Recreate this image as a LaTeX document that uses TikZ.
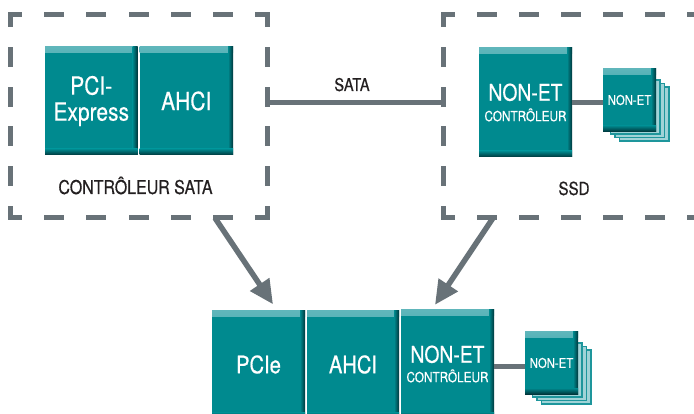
\documentclass[tikz,border=0pt]{standalone}
\usepackage{fontspec}
\setmainfont{TeX Gyre Heros}[FakeStretch=0.84,FakeBold=0.5]
\usetikzlibrary{arrows.meta,calc}
\definecolor{tealmain}{RGB}{0,138,143}
\definecolor{teallight}{RGB}{95,182,187}
\definecolor{tealdark}{RGB}{0,55,60}
\definecolor{layerfill}{RGB}{160,211,215}
\definecolor{layeredge}{RGB}{30,150,156}
\definecolor{linegray}{RGB}{104,114,120}
\definecolor{labeltext}{RGB}{35,31,32}
\tikzset{
  chip/.style={fill=tealmain, text=white, inner sep=0pt, align=center,
    path picture={
      \shade[top color=teallight, bottom color=tealmain]
        (path picture bounding box.north west) rectangle ([yshift=-6pt]path picture bounding box.north east);
      \shade[left color=tealmain, right color=tealdark]
        ([xshift=-5pt]path picture bounding box.north east) rectangle (path picture bounding box.south east);
      \shade[top color=tealmain, bottom color=tealdark]
        ([yshift=6pt]path picture bounding box.south west) rectangle (path picture bounding box.south east);
    }},
  layer/.style={fill=layerfill, draw=layeredge, line width=1.2pt},
  dashedge/.style={draw=linegray, line width=5pt, line cap=rect,
    dash pattern=on 15pt off #1, dash phase=5.5pt},
  link/.style={draw=linegray, line width=5pt},
  bigarrow/.style={draw=linegray, fill=linegray, line width=5.5pt,
    -{Triangle[width=22pt,length=24pt]}},
  lbl/.style={text=labeltext, inner sep=0pt, anchor=base},
}
\newcommand{\nandlayers}[2]{%
  \foreach \i in {3,2,1} {
    \filldraw[layer] ({#1-23.5+4.5*\i},{#2-23.5+3.5*\i}) rectangle ({#1+26+4.5*\i},{#2+30.5+3.5*\i});
  }}
\begin{document}
\begin{tikzpicture}[x=1pt,y=-1pt]
\fill[white] (0,0) rectangle (694,414);
\useasboundingbox (0,0) rectangle (694,414);

% frame corners
\coordinate (sataNW) at (10,15);
\coordinate (sataSE) at (267,218);
\coordinate (ssdNW) at (443,15);
\coordinate (ssdSE) at (720,218);

% dashed frames
\draw[dashedge=27.17pt] (sataNW) -- (sataNW -| sataSE);
\draw[dashedge=27.17pt] (sataNW |- sataSE) -- (sataSE);
\draw[dashedge=24.8pt] (sataNW) -- (sataNW |- sataSE);
\draw[dashedge=24.8pt] (sataNW -| sataSE) -- (sataSE);
\draw[dashedge=27pt] (ssdNW) -- (ssdNW -| ssdSE);
\draw[dashedge=27pt] (ssdNW |- ssdSE) -- (ssdSE);
\draw[dashedge=24.8pt] (ssdNW) -- (ssdNW |- ssdSE);

% top-left chips
\node[chip, minimum width=92.5pt, minimum height=108pt, font=\fontsize{25}{26}\selectfont] (pci) at (91.25,101) {PCI-\\Express};
\node[chip, minimum width=93.5pt, minimum height=108pt, font=\fontsize{25}{26}\selectfont] (ahcia) at (186.25,101) {AHCI};

% SSD chips
\node[chip, minimum width=93pt, minimum height=109pt, font=\fontsize{23}{20.5}\selectfont] (ctrla) at (525.5,102.5) {NON-ET\\{\fontsize{14}{14}\selectfont CONTRÔLEUR}};
\nandlayers{629.5}{100}
\node[chip, minimum width=53pt, minimum height=63pt, font=\fontsize{13.5}{14}\selectfont] (nanda) at (629.5,100) {NON-ET};

% bottom chips
\node[chip, minimum width=93pt, minimum height=108pt, font=\fontsize{24}{26}\selectfont] (pcie) at (258.5,364.5) {PCIe};
\node[chip, minimum width=92pt, minimum height=108pt, font=\fontsize{24}{26}\selectfont] (ahcib) at (353,364.5) {AHCI};
\node[chip, minimum width=93pt, minimum height=108pt, font=\fontsize{23}{19.5}\selectfont] (ctrlb) at (447.5,364) {NON-ET\\{\fontsize{14}{14}\selectfont CONTRÔLEUR}};
\nandlayers{551.5}{363}
\node[chip, minimum width=53pt, minimum height=62pt, font=\fontsize{13.5}{14}\selectfont] (nandb) at (551.5,363) {NON-ET};

% labels
\node[lbl, font=\fontsize{17.5}{18}\selectfont] (satalbl) at (352,91) {SATA};
\node[lbl, font=\fontsize{19}{20}\selectfont] (ctrlsatalbl) at (135.5,194) {CONTRÔLEUR SATA};
\node[lbl, font=\fontsize{18}{19}\selectfont] (ssdlbl) at (574,195) {SSD};

% connectors
\draw[link] (sataSE |- ctrla.west) -- (ssdNW |- ctrla.west);
\draw[link] (ctrla.east) -- (ctrla.east -| nanda.west);
\draw[link] ([yshift=-2pt]ctrlb.east) -- ([yshift=-2pt]ctrlb.east -| nandb.west);

% arrows
\coordinate (arrowastart) at (215,218);
\coordinate (arrowbstart) at (493,218);
\draw[bigarrow] (arrowastart) -- ([shift={(14.5,-6)}]pcie.north);
\draw[bigarrow] (arrowbstart) -- ([shift={(-12.5,-5)}]ctrlb.north);
\end{tikzpicture}
\end{document}
